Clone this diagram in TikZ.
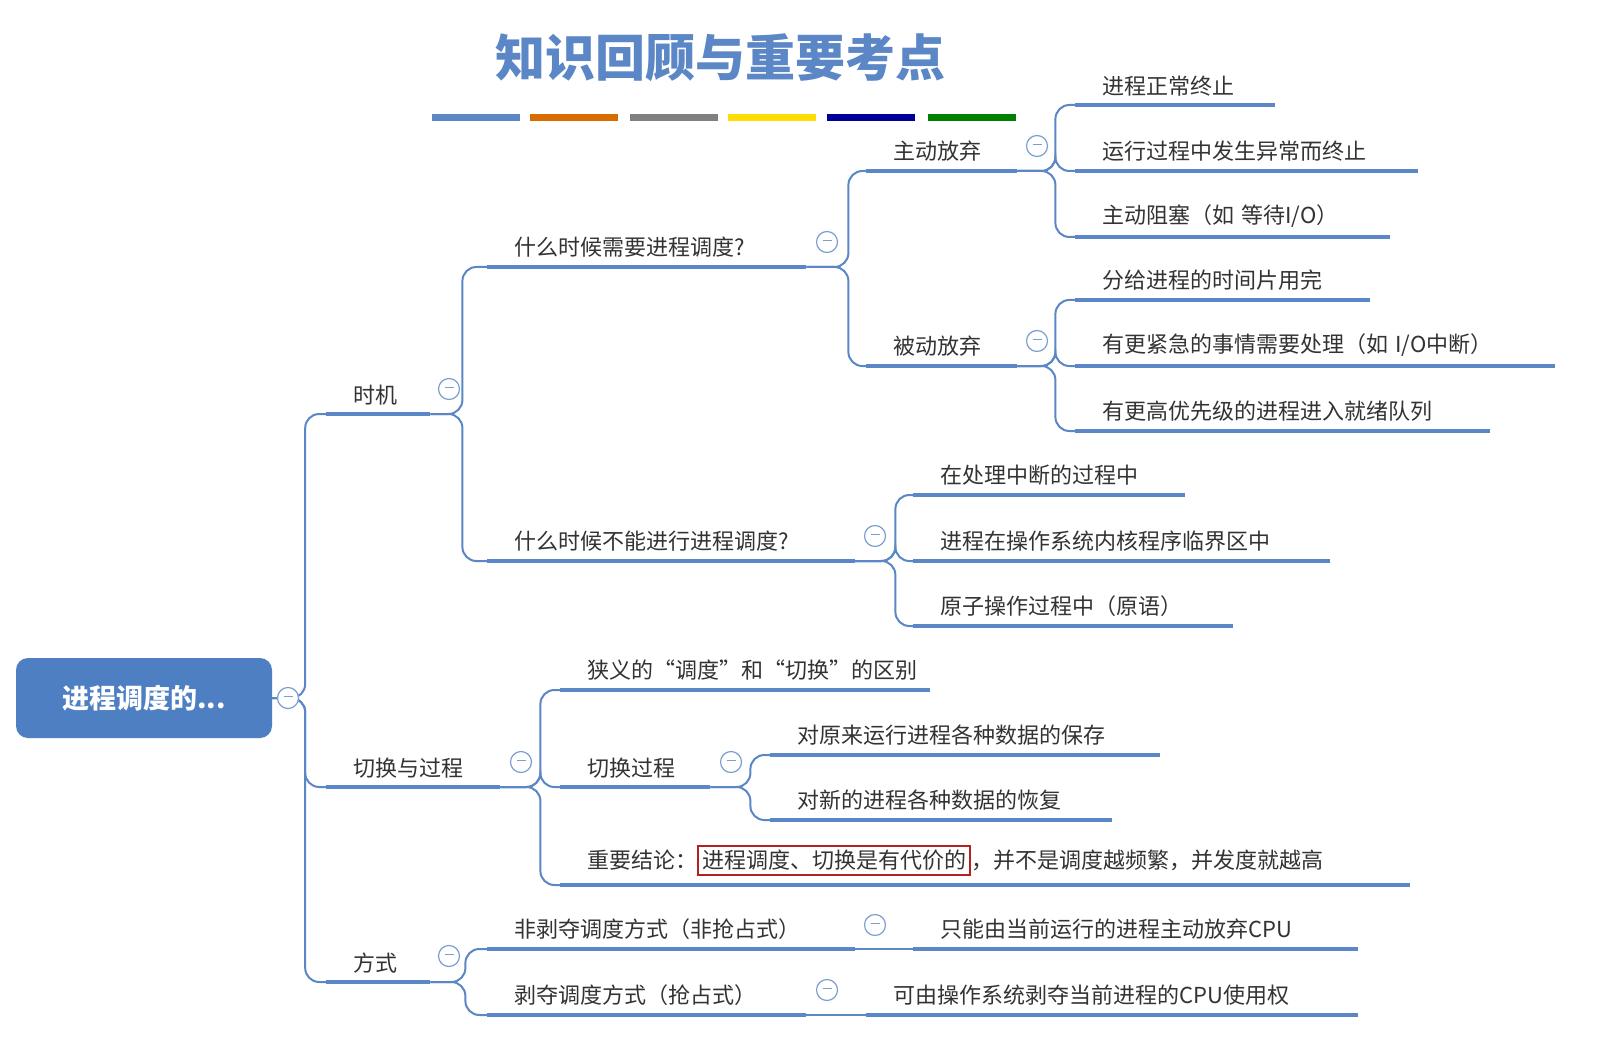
\documentclass[tikz,border=0pt]{standalone}
\usepackage{fontspec}
\setmainfont{Noto Sans CJK SC}
\usetikzlibrary{positioning}
\definecolor{branch}{HTML}{5B87C6}
\definecolor{rootblue}{HTML}{4F7FC3}
\definecolor{boxred}{HTML}{B22222}
\definecolor{txt}{HTML}{333333}

\tikzset{
  item/.style={anchor=south west, inner xsep=0, inner ysep=9pt, text width=#1,
    align=left, font=\fontsize{22}{24}\selectfont, text=txt,
    execute at begin node=\hspace*{27pt}},
  uline/.style={draw=branch, line width=4pt},
  conn/.style={draw=branch, line width=2pt, rounded corners=14pt},
  fold/.style={circle, draw=branch!80, line width=1.2pt, fill=white,
    minimum size=21pt, inner sep=0pt}
}
\newcommand{\minusmark}{\textcolor{branch!80}{\rule[3pt]{9pt}{1.3pt}}}

\begin{document}
\begin{tikzpicture}[x=1pt,y=-1pt]
\useasboundingbox[fill=white] (0,0) rectangle (1605,1048);

% title
\node[font=\fontsize{50}{52}\selectfont\bfseries, text=branch] (title) at (720,58) {知识回顾与重要考点};
\foreach \a/\c in {432/branch,530/orange!85!black,630/gray,728/yellow!80!orange,827/blue!60!black,928/green!50!black}
  \draw[\c, line width=7pt] (\a,118) -- ++(88,0);

% root
\node[fill=rootblue, rounded corners=12pt, minimum width=256pt, minimum height=80pt,
  text=white, font=\fontsize{27}{30}\selectfont\bfseries] (root) at (144,698) {进程调度的...};

% level 1
\node[item=104] (shiji) at (326,414) {时机};
\node[item=174] (qiehuan) at (326,787) {切换与过程};
\node[item=104] (fangshi) at (326,982) {方式};

% timing
\node[item=319] (need) at (487,267) {什么时候需要进程调度?};
\node[item=368] (cannot) at (487,561) {什么时候不能进行进程调度?};
\node[item=151] (zhudong) at (866,171) {主动放弃};
\node[item=151] (beidong) at (866,366) {被动放弃};
\node[item=200] (z1) at (1075,105) {进程正常终止};
\node[item=343] (z2) at (1075,171) {运行过程中发生异常而终止};
\node[item=315] (z3) at (1075,237) {主动阻塞（如 等待I/O）};
\node[item=295] (b1) at (1075,300) {分给进程的时间片用完};
\node[item=480] (b2) at (1075,366) {有更紧急的事情需要处理（如 I/O中断）};
\node[item=415] (b3) at (1075,431) {有更高优先级的进程进入就绪队列};
\node[item=272] (n1) at (913,495) {在处理中断的过程中};
\node[item=417] (n2) at (913,561) {进程在操作系统内核程序临界区中};
\node[item=320] (n3) at (913,626) {原子操作过程中（原语）};

% switching
\node[item=370] (narrow) at (560,690) {狭义的“调度”和“切换”的区别};
\node[item=150] (proc) at (560,787) {切换过程};
\node[item=850] (concl) at (560,885) {重要结论：{\setlength{\fboxsep}{3pt}\setlength{\fboxrule}{2pt}\fcolorbox{boxred}{white}{进程调度、切换是有代价的}}，并不是调度越频繁，并发度就越高};
\node[item=390] (save) at (770,755) {对原来运行进程各种数据的保存};
\node[item=342] (restore) at (770,820) {对新的进程各种数据的恢复};

% modes
\node[item=368] (nonpre) at (487,949) {非剥夺调度方式（非抢占式）};
\node[item=319] (pre) at (487,1015) {剥夺调度方式（抢占式）};
\node[item=445] (nonpreD) at (913,949) {只能由当前运行的进程主动放弃CPU};
\node[item=492] (preD) at (866,1015) {可由操作系统剥夺当前进程的CPU使用权};

\foreach \n in {shiji,qiehuan,fangshi,need,cannot,zhudong,beidong,z1,z2,z3,b1,b2,b3,
  n1,n2,n3,narrow,proc,concl,save,restore,nonpre,pre,nonpreD,preD}
  \draw[uline] (\n.south west) -- (\n.south east);

% connectors
\foreach \c in {shiji,qiehuan,fangshi}
  \draw[conn] (root.east) -- ++(33,0) |- (\c.south west);
\foreach \c in {need,cannot}
  \draw[conn] (shiji.south east) -- ++(32,0) |- (\c.south west);
\foreach \c in {zhudong,beidong}
  \draw[conn] (need.south east) -- ++(42,0) |- (\c.south west);
\foreach \c in {z1,z2,z3}
  \draw[conn] (zhudong.south east) -- ++(38,0) |- (\c.south west);
\foreach \c in {b1,b2,b3}
  \draw[conn] (beidong.south east) -- ++(38,0) |- (\c.south west);
\foreach \c in {n1,n2,n3}
  \draw[conn] (cannot.south east) -- ++(40,0) |- (\c.south west);
\foreach \c in {narrow,proc,concl}
  \draw[conn] (qiehuan.south east) -- ++(40,0) |- (\c.south west);
\foreach \c in {save,restore}
  \draw[conn] (proc.south east) -- ++(40,0) |- (\c.south west);
\foreach \c in {nonpre,pre}
  \draw[conn] (fangshi.south east) -- ++(35,0) |- (\c.south west);
\draw[conn] (nonpre.south east) -- (nonpreD.south west);
\draw[conn] (pre.south east) -- (preD.south west);

% fold markers
\foreach \p/\x/\y in {r/288/698,a/449/389,b/521/762,c/449/956,d/827/242,e/875/536,
  f/1037/146,g/1037/341,h/731/762,i/875/925,j/827/990}
  \node[fold] (fold\p) at (\x,\y) {\minusmark};
\end{tikzpicture}
\end{document}
